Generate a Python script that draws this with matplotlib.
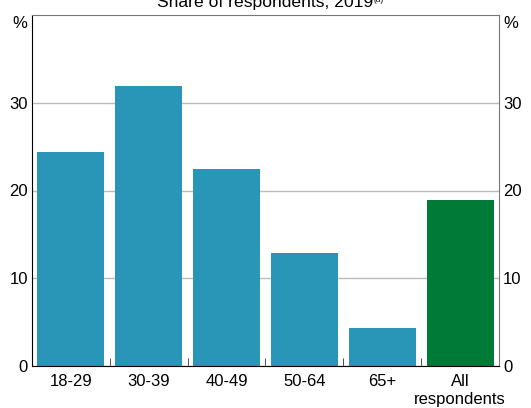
import matplotlib
matplotlib.use("Agg")
import matplotlib.pyplot as plt
import numpy as np

plt.rcParams['font.family'] = ['Liberation Sans', 'DejaVu Sans']

categories = ["18-29", "30-39", "40-49", "50-64", "65+", "All\nrespondents"]
values = [24.4, 31.9, 22.4, 12.9, 4.3, 18.9]
colors = ["#2A96B7"] * 5 + ["#007A37"]
yticks = [0, 10, 20, 30]

fig = plt.figure(figsize=(5.31, 4.08), dpi=100)
ax = fig.add_axes([32/531, 1-366/408, 467/531, 351/408])
x = np.arange(len(categories))
ax.bar(x, values, width=0.86, color=colors, zorder=2)
ax.set_xlim(-0.5, len(categories) - 0.5)
ax.set_ylim(0, 40)
ax.set_yticks(yticks)
ax.yaxis.grid(True, color="#BBBBBB", linewidth=1, zorder=0)
ax.set_xticks(x)
ax.set_xticklabels(categories, fontsize=12, linespacing=1.25)
ax.tick_params(axis='x', length=0, pad=6)
ax.set_xticks(np.arange(0.5, len(categories) - 0.5, 1), minor=True)
ax.tick_params(axis='x', which='minor', direction='in', length=6, color="#333333")
ax.tick_params(axis='y', length=0, labelsize=12, pad=3, labelleft=True, labelright=True)
for s in ['top', 'right']:
    ax.spines[s].set_color("#777777")
for s in ['left', 'bottom']:
    ax.spines[s].set_color("black")
ax.text(-0.01, 0.997, "%", transform=ax.transAxes, ha='right', va='top', fontsize=12)
ax.text(1.01, 0.997, "%", transform=ax.transAxes, ha='left', va='top', fontsize=12)
fig.text(265/531, 1 - 7/408, "Share of respondents, 2019", ha='center', va='baseline', fontsize=12.6)
fig.text(373/531, 1 - 2/408, "(a)", ha='left', va='baseline', fontsize=6)
fig.savefig("out.png", dpi=100)
